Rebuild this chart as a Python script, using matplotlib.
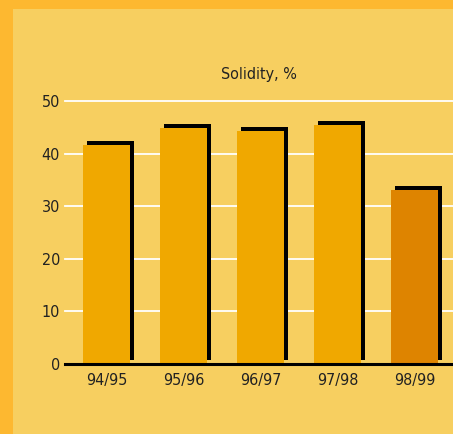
import matplotlib
matplotlib.use("Agg")
import matplotlib.pyplot as plt
import matplotlib.transforms as mtransforms
from matplotlib.patches import Rectangle

categories = ["94/95", "95/96", "96/97", "97/98", "98/99"]
values = [41.6, 44.9, 44.3, 45.4, 33.1]
bar_colors = ["#F0A800", "#F0A800", "#F0A800", "#F0A800", "#DE8400"]
yticks = [0, 10, 20, 30, 40, 50]
title = "Solidity, %"

plt.rcParams['font.family'] = ['DejaVu Sans']
plt.rcParams['font.stretch'] = 'condensed'

W, H = 453, 434
fig = plt.figure(figsize=(W / 100, H / 100), dpi=100)
bg = "#F7CF60"
border = "#FDB830"
fig.patch.set_facecolor(bg)
# borders
fig.patches.append(Rectangle((0, 1 - 9 / H), 1, 9 / H, transform=fig.transFigure,
                             facecolor=border, edgecolor='none', zorder=0))
fig.patches.append(Rectangle((0, 0), 13 / W, 1, transform=fig.transFigure,
                             facecolor=border, edgecolor='none', zorder=0))

left = 65 / W
bottom = (H - 364) / H
top = (H - 101) / H
ax = fig.add_axes([left, bottom, 1 - left, top - bottom])
ax.set_facecolor('none')

x = list(range(len(categories)))
width = 0.61
shift = mtransforms.ScaledTranslation(4 / 100, 4 / 100, fig.dpi_scale_trans)
shadow = ax.bar(x, values, width=width, color='black', zorder=2)
for p in shadow:
    p.set_transform(ax.transData + shift)
    p.set_clip_on(False)
ax.bar(x, values, width=width, color=bar_colors, zorder=3)

for t in yticks[1:]:
    ax.axhline(t, color='white', lw=1.3, zorder=1, clip_on=False)
ax.axhline(0, color='black', lw=2.2, zorder=4, clip_on=False)

ax.set_xlim(-0.539, 4.5)
ax.set_ylim(0, 50)
ax.set_yticks(yticks)
ax.set_xticks(x)
ax.set_xticklabels(categories)
for s in ax.spines.values():
    s.set_visible(False)
ax.tick_params(axis='both', length=0, labelsize=11.5, colors='#222222')
ax.tick_params(axis='y', pad=3.6)
ax.tick_params(axis='x', pad=6.5)
ax.set_title(title, fontsize=11.5, color='#222222', pad=16)

fig.savefig("out.png", dpi=100, facecolor=bg)
